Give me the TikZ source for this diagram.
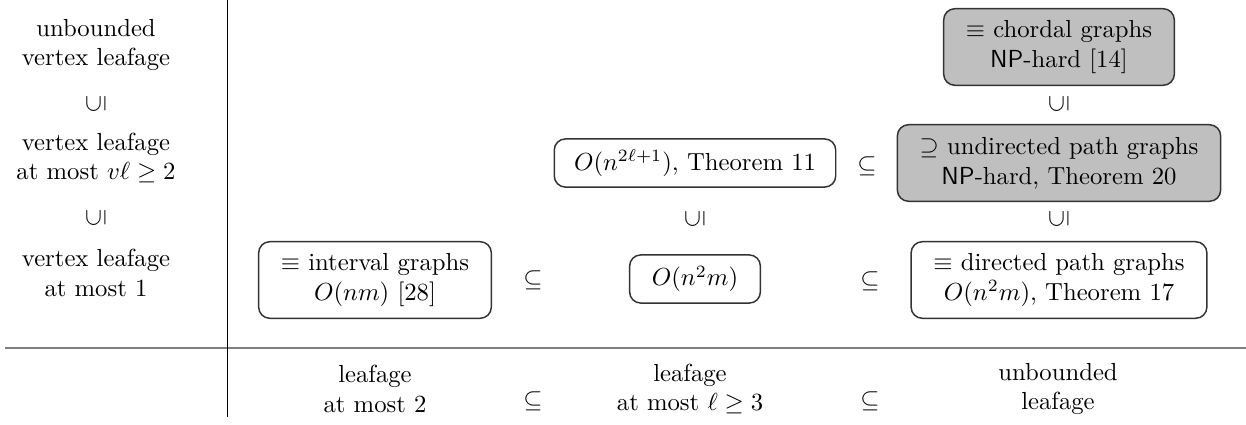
\documentclass[tikz,border=0pt]{standalone}
\usepackage{amsmath,amssymb}
\begin{document}
\begin{tikzpicture}[x=0.405pt,y=-0.405pt,
  cls/.style={draw=black!80, line width=0.6pt, rounded corners=4.5pt, align=center, inner xsep=9pt, inner ysep=3pt},
  two/.style={cls, minimum height=31pt},
  one/.style={cls, minimum height=19.5pt},
  hard/.style={fill=black!25},
  lab/.style={align=center, inner sep=0pt},
  rel/.style={inner sep=0pt},
  vrel/.style={inner sep=0pt, rotate=90}]
\useasboundingbox (0,0) rectangle (1246,425);
\draw[gray, line width=0.8pt] (5,348) -- (1246,348);
\draw[black, line width=0.4pt] (227,0) -- (227,417);
% left column
\node[lab] (r1) at (96,45) {unbounded\\vertex leafage};
\node[vrel] (v1) at (96,104) {$\subseteq$};
\node[lab] (r2) at (96,158) {vertex leafage\\at most $v\ell\geq 2$};
\node[vrel] (v2) at (96,218) {$\subseteq$};
\node[lab] (r3) at (96,273) {vertex leafage\\at most 1};
% row 1
\node[two,hard] (chordal) at (1059,47) {$\equiv$ chordal graphs\\\textsf{NP}-hard [14]};
\node[vrel] (v3) at (1059,104) {$\subseteq$};
% row 2
\node[one, inner xsep=8pt] (olog) at (695,163) {$O(n^{2\ell+1})$, Theorem 11};
\node[rel] (s1) at (867,166) {$\subseteq$};
\node[two,hard] (undir) at (1059,163) {$\supseteq$ undirected path graphs\\\textsf{NP}-hard, Theorem 20};
\node[vrel] (v4) at (695,219) {$\subseteq$};
\node[vrel] (v5) at (1059,219) {$\subseteq$};
% row 3
\node[two] (interval) at (375,280) {$\equiv$ interval graphs\\$O(nm)$ [28]};
\node[rel] (s2) at (533,280) {$\subseteq$};
\node[one] (on2m) at (695,279) {$O(n^2m)$};
\node[rel] (s3) at (870,281) {$\subseteq$};
\node[two] (directed) at (1059,280) {$\equiv$ directed path graphs\\$O(n^2m)$, Theorem 17};
% bottom row
\node[lab] (b1) at (375,389) {leafage\\at most 2};
\node[rel] (s4) at (533,401) {$\subseteq$};
\node[lab] (b2) at (690,389) {leafage\\at most $\ell\geq 3$};
\node[rel] (s5) at (870,401) {$\subseteq$};
\node[lab] (b3) at (1058,389) {unbounded\\leafage};
\end{tikzpicture}
\end{document}
